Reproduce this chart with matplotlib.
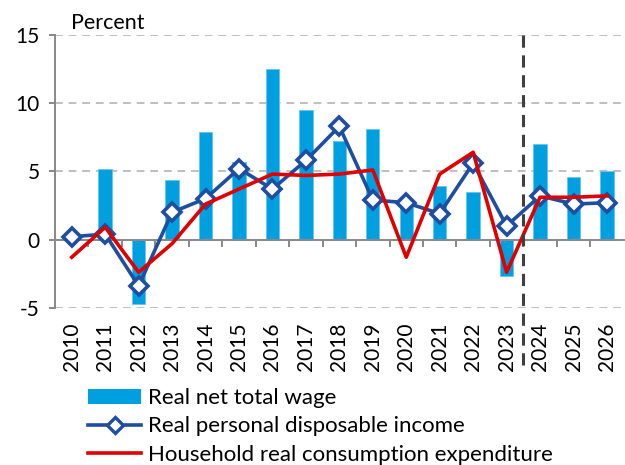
import matplotlib
matplotlib.use("Agg")
import matplotlib.pyplot as plt
from matplotlib.lines import Line2D
from matplotlib.patches import Patch
import numpy as np

plt.rcParams['font.family'] = ['Lato', 'DejaVu Sans']

years = [str(y) for y in range(2010, 2027)]
wage = [0.0, 5.2, -4.7, 4.4, 7.9, 5.7, 12.5, 9.5, 7.2, 8.1, 2.5, 3.9, 3.5, -2.7, 7.0, 4.6, 5.0]
income = [0.2, 0.4, -3.4, 2.0, 3.0, 5.2, 3.7, 5.8, 8.3, 2.9, 2.7, 1.9, 5.6, 1.0, 3.2, 2.6, 2.7]
consumption = [-1.3, 0.9, -2.4, -0.3, 2.6, 3.7, 4.8, 4.7, 4.8, 5.1, -1.3, 4.8, 6.4, -2.4, 3.1, 3.1, 3.2]

labels = ["Real net total wage", "Real personal disposable income",
          "Household real consumption expenditure"]

BAR = '#009FE0'
BLUE = '#1F4EA0'
RED = '#E00000'
GRID = '#BFBFBF'
AX = '#888888'
FS = 15

W, H = 625, 465
fig = plt.figure(figsize=(W / 100, H / 100), dpi=100)
ax = fig.add_axes([55 / W, 1 - 307.7 / H, (623.7 - 55) / W, (307.7 - 35) / H])

x = np.arange(len(years))
ax.bar(x, wage, width=0.4, color=BAR, edgecolor='#66C5EE', linewidth=0.6, zorder=2)
ax.plot(x, income, color=BLUE, lw=2.6, marker='D', ms=9, mfc='white', mec=BLUE,
        mew=2.6, zorder=3)
ax.plot(x, consumption, color=RED, lw=2.6, zorder=4)

ax.set_xlim(-0.5, len(years) - 0.5)
ax.set_ylim(-5, 15)
ax.set_yticks([-5, 0, 5, 10, 15])
ax.set_yticklabels(['-5', '0', '5', '10', '15'])
for yv in [-5, 5, 10, 15]:
    ax.axhline(yv, color=GRID, lw=1.4, ls=(0, (4, 3)), zorder=1)

ax.spines['top'].set_visible(False)
ax.spines['right'].set_visible(False)
ax.spines['left'].set_color(AX)
ax.spines['left'].set_linewidth(1.4)
ax.spines['bottom'].set_position(('data', 0))
ax.spines['bottom'].set_color(AX)
ax.spines['bottom'].set_linewidth(1.4)
ax.spines['bottom'].set_zorder(2.5)

ax.set_xticks(x)
ax.set_xticklabels(years, rotation=90, fontsize=FS, va='top')
ax.set_xticks(np.arange(0.5, len(years) - 0.5, 1.0), minor=True)
ax.tick_params(axis='x', which='major', length=0, pad=60)
ax.tick_params(axis='x', which='minor', length=5, width=1.4, color=AX, direction='out')
ax.tick_params(axis='y', length=4, width=1.4, color=AX, labelsize=FS, pad=7)

ax.plot([13.5, 13.5], [15, -9.7], color='#404040', lw=2.2, ls=(0, (4, 2.5)),
        clip_on=False, zorder=5)

fig.text(71 / W, 1 - 23 / H, 'Percent', fontsize=FS + 0.5, va='center', ha='left')

handles = [Patch(facecolor=BAR, edgecolor='none'),
           Line2D([], [], color=BLUE, lw=2.6, marker='D', ms=8, mfc='white', mec=BLUE, mew=2.4),
           Line2D([], [], color=RED, lw=2.6)]
fig.legend(handles, labels, loc='upper left', bbox_to_anchor=(88 / W, 1 - 388 / H),
           frameon=False, fontsize=16, handlelength=2.4, handletextpad=0.3,
           handleheight=0.65, labelspacing=0.38, borderpad=0, borderaxespad=0)

fig.savefig('out.png', dpi=100)
